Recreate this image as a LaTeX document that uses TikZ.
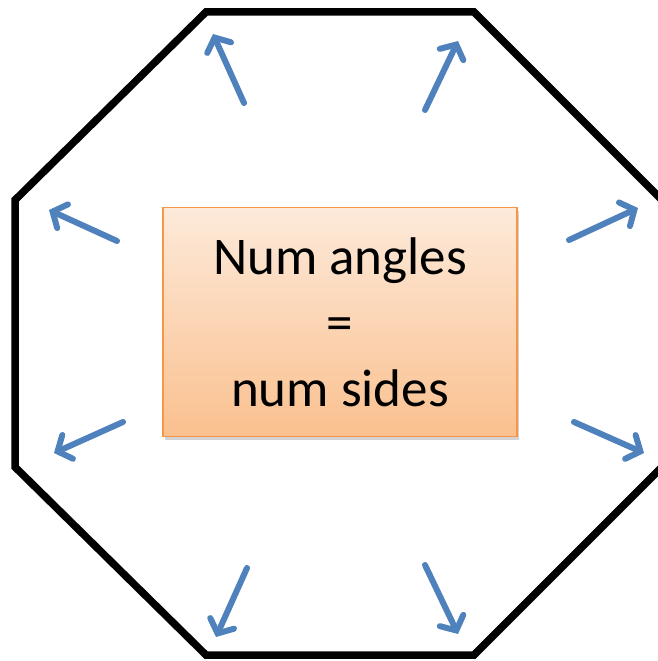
\documentclass[tikz,border=0pt]{standalone}
\usepackage{fontspec}
\setmainfont{Carlito}
\usetikzlibrary{arrows.meta}
\usetikzlibrary{shadows}
\usetikzlibrary{positioning}

\definecolor{arrowblue}{HTML}{4F81BD}
\definecolor{boxedge}{HTML}{F79646}
\definecolor{boxtop}{HTML}{FDEADA}
\definecolor{boxbottom}{HTML}{FAC08F}

\tikzset{
  outward/.style={arrowblue, line width=6pt, line cap=round,
    -{Straight Barb[length=11pt,width=26pt,line width=6pt,line cap=round]}},
  rulebox/.style={draw=boxedge, line width=1.5pt, top color=boxtop, bottom color=boxbottom,
    minimum width=354pt, minimum height=229pt, align=center,
    font=\fontsize{53}{66}\selectfont,
    drop shadow={shadow xshift=2pt, shadow yshift=-3pt, opacity=0.35}}
}

\begin{document}
\begin{tikzpicture}[x=1pt, y=-1pt]
        \useasboundingbox (0,0) rectangle (657,661);
        % the octagon
        \draw [line width=7.5pt, line join=miter] (206,12) -- (474,12) -- (662,200) -- (662,467)
              -- (474,655) -- (206,655) -- (15,467) -- (15,200) -- cycle;
        % arrows pointing at the corners
        \draw [outward] (244,103) -- (213,34);
        \draw [outward] (425,110) -- (458,41);
        \draw [outward] (117,241) -- (49,210);
        \draw [outward] (569,240) -- (638,208);
        \draw [outward] (123,422) -- (54,453);
        \draw [outward] (574,422) -- (644,453);
        \draw [outward] (247,568) -- (216,637);
        \draw [outward] (425,565) -- (458,634);
        \node [rulebox] (rule) at (340,322) {Num angles\\=\\num sides};
      \end{tikzpicture}
\end{document}
